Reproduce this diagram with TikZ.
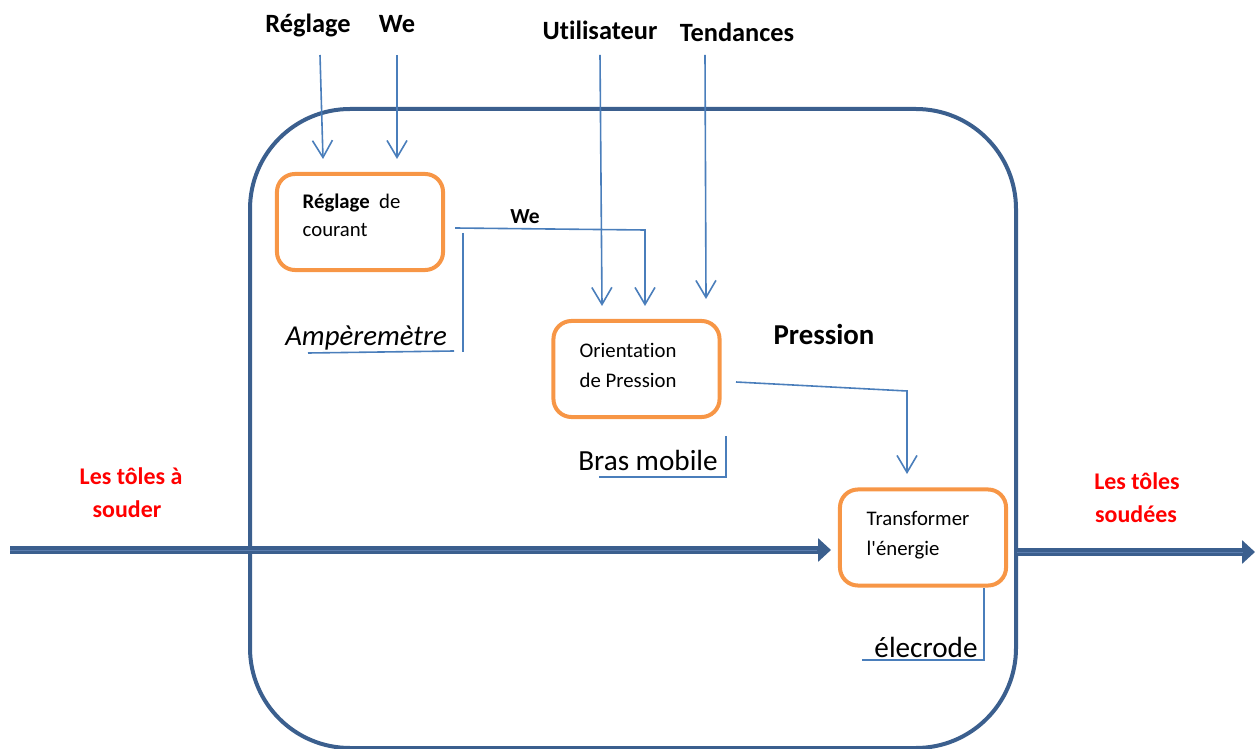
\documentclass[tikz,border=0pt]{standalone}
\usepackage{fontspec}
\setmainfont{Carlito}[Ligatures={NoCommon}]
\usetikzlibrary{arrows.meta,calc}
\definecolor{frameblue}{HTML}{3B5F8E}
\definecolor{flowblue}{HTML}{4A7EBB}
\definecolor{stripeblue}{HTML}{5B7DAE}
\definecolor{boxorange}{HTML}{F79646}
\definecolor{signred}{HTML}{FF0000}
\newcommand{\fsz}[1]{\fontsize{#1}{#1}\selectfont}
\begin{document}
\begin{tikzpicture}[x=0.01cm,y=-0.01cm,
  frame/.style={draw=frameblue, line width=0.04cm, rounded corners=1.0cm},
  box/.style={draw=boxorange, line width=0.04cm, rounded corners=0.18cm,
              minimum width=1.66cm, minimum height=0.96cm, inner sep=0pt},
  flow/.style={draw=flowblue, line width=0.016cm,
               -{Straight Barb[length=0.17cm,width=0.2cm,line width=0.016cm]}},
  bracket/.style={draw=flowblue, line width=0.016cm},
  mainflow/.style={draw=frameblue, line width=0.08cm,
                   -{Triangle[length=0.13cm,width=0.23cm]}},
  stripe/.style={draw=stripeblue, line width=0.01cm},
  toplbl/.style={font=\fsz{7.5}\bfseries, inner sep=0pt, anchor=base},
  boxtxt/.style={font=\fsz{5.9}, inner sep=0pt, anchor=base west},
  partlbl/.style={font=\fsz{8.3}, inner sep=0pt, anchor=base},
  redlbl/.style={font=\fsz{6.8}\bfseries, text=signred, inner sep=0pt, anchor=base}]
\useasboundingbox (0,0) rectangle (1255,749);

% system boundary
\draw[frame] (250,109) rectangle (1016,748);

% material flow through the system
\coordinate (inS) at (10,550);
\coordinate (inE) at (831,550);
\coordinate (outS) at (1017,552);
\coordinate (outE) at (1255,552);
\draw[mainflow] (inS) -- (inE);
\draw[stripe] (inS) -- ($(inE)+(-14,0)$);
\draw[mainflow] (outS) -- (outE);
\draw[stripe] (outS) -- ($(outE)+(-12,0)$);

% function boxes
\node[box] (reg) at (360,222) {};
\node[box] (ori) at (636.5,369) {};
\node[box] (tra) at (923,537.5) {};

\node[boxtxt] (reg1) at (302,209) {\textbf{Réglage}\ \ de};
\node[boxtxt] (reg2) at (302,237) {courant};
\node[boxtxt] (ori1) at (579,357) {Orientation};
\node[boxtxt] (ori2) at (579,387) {de Pression};
\node[boxtxt] (tra1) at (866,525) {Transformer};
\node[boxtxt] (tra2) at (866,555) {l\textquotesingle énergie};

% inputs
\node[toplbl] (tReg) at (308,33) {Réglage};
\node[toplbl] (tWe) at (397,33) {We};
\node[toplbl] (tUser) at (600,40) {Utilisateur};
\node[toplbl] (tTend) at (737,42) {Tendances};
\node[toplbl] (tPress) at (824,345) {\fsz{8.2}Pression};
\node[font=\fsz{6.1}\bfseries, inner sep=0pt, anchor=base] (weMid) at (525,224) {We};

\node[redlbl] (inA) at (131,484) {Les tôles à};
\node[redlbl] (inB) at (127,517) {souder};
\node[redlbl] (outA) at (1137,489) {Les tôles};
\node[redlbl] (outB) at (1136,522) {soudées};

% supports
\node[partlbl, font=\fsz{8.2}\itshape] (amp) at (366,346) {Ampèremètre};
\node[partlbl] (bras) at (648,470) {Bras mobile};
\node[partlbl] (elec) at (926,657) {élecrode};

% input arrows
\coordinate (r1) at (320,55);  \coordinate (r2) at (323,159);
\coordinate (w1) at (397,55);  \coordinate (w2) at (397,159);
\coordinate (u1) at (600,55);  \coordinate (u2) at (602,306);
\coordinate (t1) at (705,55);  \coordinate (t2) at (706,299);
\draw[flow] (r1) -- (r2);
\draw[flow] (w1) -- (w2);
\draw[flow] (u1) -- (u2);
\draw[flow] (t1) -- (t2);

% energy from current setting to pressure orientation
\coordinate (we1) at (455,228);
\coordinate (we2) at (645,230);
\coordinate (we3) at (645,306);
\draw[flow] (we1) -- (we2) -- (we3);

% pressure to energy transformation
\coordinate (p1) at (736,382);
\coordinate (p2) at (907,391);
\coordinate (p3) at (907,474);
\draw[flow] (p1) -- (p2) -- (p3);

% support brackets
\coordinate (a1) at (463,233); \coordinate (a2) at (463,352);
\coordinate (a3) at (454,351); \coordinate (a4) at (308,353);
\draw[bracket] (a1) -- (a2);
\draw[bracket] (a3) -- (a4);

\coordinate (b1) at (726,436); \coordinate (b2) at (726,477);
\coordinate (b3) at (599,477);
\draw[bracket] (b1) -- (b2) -- (b3);

\coordinate (e1) at (984,588); \coordinate (e2) at (984,660);
\coordinate (e3) at (862,660);
\draw[bracket] (e1) -- (e2) -- (e3);
\end{tikzpicture}
\end{document}
